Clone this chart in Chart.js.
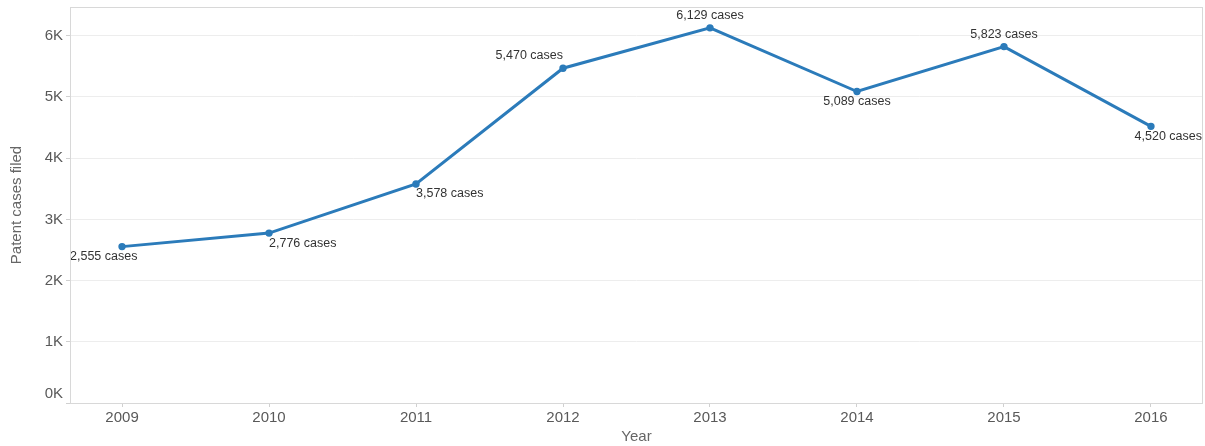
<!DOCTYPE html>
<html>
<head>
<meta charset="utf-8">
<script src="https://cdn.jsdelivr.net/npm/chart.js@4.4.1/dist/chart.umd.min.js"></script>
<style>
  html, body { margin: 0; padding: 0; background: #fff; }
  #wrap { width: 1205px; height: 446px; position: relative; }
</style>
</head>
<body>
<div id="wrap"><canvas id="chart" width="1205" height="446"></canvas></div>
<script>
// Patent cases filed per year
const years = [2009, 2010, 2011, 2012, 2013, 2014, 2015, 2016];
const casesFiled = [2555, 2776, 3578, 5470, 6129, 5089, 5823, 4520];
const yTickValues = [0, 1000, 2000, 3000, 4000, 5000, 6000];

// where each value label sits relative to its point
const labelSpots = [
  { side: 'below', align: 'plot-left' },
  { side: 'below', align: 'left' },
  { side: 'below', align: 'left' },
  { side: 'above', align: 'right' },
  { side: 'above', align: 'center' },
  { side: 'below', align: 'center' },
  { side: 'above', align: 'center' },
  { side: 'below', align: 'plot-right' }
];

const FONT = '"Liberation Sans", Arial, sans-serif';
const LINE_BLUE = '#2b7bba';

const fmt = v => v.toLocaleString('en-US');

// border around the plotting area
const plotFrame = {
  id: 'plotFrame',
  afterDraw(chart) {
    const { ctx, chartArea: a } = chart;
    ctx.save();
    ctx.strokeStyle = '#d8d8d8';
    ctx.lineWidth = 1;
    ctx.strokeRect(Math.round(a.left) + 0.5, Math.round(a.top) + 0.5,
      Math.round(a.right - a.left) - 1, Math.round(a.bottom - a.top));
    ctx.restore();
  }
};

// bottom y label lifted so it stays inside the plot height
const zeroTick = {
  id: 'zeroTick',
  afterDraw(chart) {
    const { ctx, chartArea: a } = chart;
    ctx.save();
    ctx.font = '15px ' + FONT;
    ctx.fillStyle = '#595959';
    ctx.textAlign = 'right';
    ctx.textBaseline = 'middle';
    ctx.fillText('0K', a.left - 7, a.bottom - 9);
    ctx.restore();
  }
};

// "N cases" labels next to each point
const valueLabels = {
  id: 'valueLabels',
  afterDatasetsDraw(chart) {
    const { ctx, chartArea: a } = chart;
    const meta = chart.getDatasetMeta(0);
    ctx.save();
    ctx.font = '12.5px ' + FONT;
    ctx.fillStyle = '#333';
    ctx.textBaseline = 'middle';
    meta.data.forEach((pt, i) => {
      const text = fmt(casesFiled[i]) + ' cases';
      const spot = labelSpots[i];
      const w = ctx.measureText(text).width;
      let left;
      if (spot.align === 'left') left = pt.x;
      else if (spot.align === 'right') left = pt.x - w;
      else if (spot.align === 'plot-left') left = a.left;
      else if (spot.align === 'plot-right') left = a.right - 1 - w;
      else left = pt.x - w / 2;
      const y = spot.side === 'below' ? pt.y + 10 : pt.y - 12.5;
      ctx.textAlign = 'left';
      ctx.fillText(text, left, y);
    });
    ctx.restore();
  }
};

new Chart(document.getElementById('chart'), {
  type: 'line',
  data: {
    datasets: [{
      data: years.map((y, i) => ({ x: y, y: casesFiled[i] })),
      borderColor: LINE_BLUE,
      backgroundColor: LINE_BLUE,
      borderWidth: 3,
      pointRadius: 2.2,
      pointHoverRadius: 2.2,
      tension: 0
    }]
  },
  options: {
    responsive: false,
    animation: false,
    events: [],
    layout: { autoPadding: false, padding: { top: 7, right: 2, left: 0, bottom: 0 } },
    plugins: { legend: { display: false }, tooltip: { enabled: false } },
    scales: {
      x: {
        type: 'linear',
        min: 2008.646,
        max: 2016.354,
        afterBuildTicks: s => { s.ticks = years.map(v => ({ value: v })); },
        afterFit: s => { s.height = 43; s.paddingLeft = 0; s.paddingRight = 0; },
        grid: { drawOnChartArea: false, drawTicks: true, tickLength: 4, color: '#d0d0d0' },
        border: { display: false },
        ticks: {
          autoSkip: false,
          maxRotation: 0,
          padding: 2,
          color: '#595959',
          font: { family: FONT, size: 15 },
          callback: v => String(v)
        },
        title: {
          display: true,
          text: 'Year',
          color: '#666',
          font: { family: FONT, size: 15 },
          padding: { top: 0, bottom: 0 }
        }
      },
      y: {
        min: 0,
        max: 6470,
        afterBuildTicks: s => { s.ticks = yTickValues.map(v => ({ value: v })); },
        afterFit: s => { s.width = 70; s.paddingTop = 0; s.paddingBottom = 0; },
        grid: { color: '#ededed', drawTicks: true, tickLength: 4, tickColor: '#d0d0d0' },
        border: { display: false },
        ticks: {
          padding: 3,
          color: ctx => (ctx.tick && ctx.tick.value === 0) ? 'rgba(0,0,0,0)' : '#595959',
          font: { family: FONT, size: 15 },
          callback: v => (v / 1000) + 'K'
        },
        title: {
          display: true,
          text: 'Patent cases filed',
          color: '#666',
          font: { family: FONT, size: 15 },
          padding: { top: 8, bottom: 0 }
        }
      }
    }
  },
  plugins: [plotFrame, zeroTick, valueLabels]
});
</script>
</body>
</html>
